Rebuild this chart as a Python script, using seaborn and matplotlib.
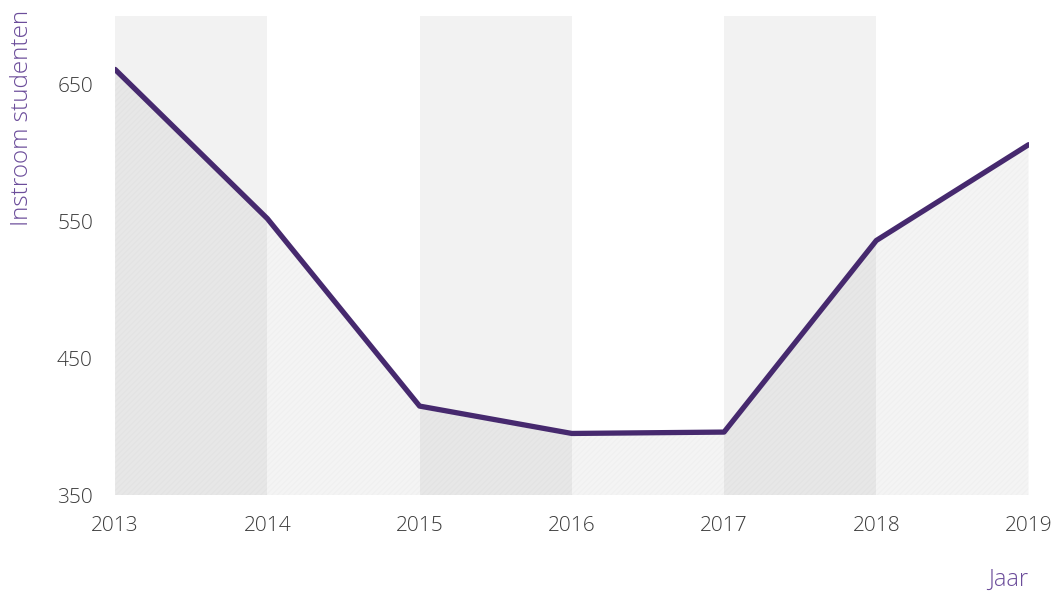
import matplotlib
matplotlib.use('Agg')
import matplotlib.pyplot as plt
import seaborn as sns
import pandas as pd

# Data
jaren = [2013, 2014, 2015, 2016, 2017, 2018, 2019]
instroom = [661, 552, 415, 395, 396, 536, 606]
yticks = [350, 450, 550, 650]

df = pd.DataFrame({'Jaar': jaren, 'Instroom': instroom})

sns.set_style('white')
plt.rcParams['font.family'] = ['Open Sans', 'DejaVu Sans']

fig = plt.figure(figsize=(10.56, 5.95), dpi=100)
ax = fig.add_axes([0.109, 0.168, 0.865, 0.805])

# alternating grey bands
for start in jaren[0:-1:2]:
    ax.axvspan(start, start + 1, color='#f2f2f2', lw=0, zorder=0)

# soft hatched area under the line
ax.fill_between(df['Jaar'], df['Instroom'], 350, facecolor=(0, 0, 0, 0.045),
                hatch='//////', edgecolor=(0, 0, 0, 0.015), linewidth=0, zorder=1)

sns.lineplot(data=df, x='Jaar', y='Instroom', ax=ax, color='#46296e', lw=3.8,
             zorder=3)

ax.set_xlim(jaren[0], jaren[-1])
ax.set_ylim(350, 700)
ax.set_xticks(jaren)
ax.set_yticks(yticks)
ax.set_xlabel('')
ax.set_ylabel('')
for s in ax.spines.values():
    s.set_visible(False)
ax.tick_params(length=0, labelsize=15, labelcolor='#3a3a3a')
ax.tick_params(axis='x', pad=15)
ax.tick_params(axis='y', pad=16)
for lab in ax.get_xticklabels() + ax.get_yticklabels():
    lab.set_fontweight('light')

fig.text(0.021, 0.983, 'Instroom studenten', rotation=90, ha='center', va='top',
         fontsize=17.5, color='#6b4c9a', fontweight='light')
fig.text(0.955, 0.005, 'Jaar', ha='center', va='bottom', fontsize=17,
         color='#6b4c9a', fontweight='light')

plt.savefig('out.png', dpi=100)
plt.close()
